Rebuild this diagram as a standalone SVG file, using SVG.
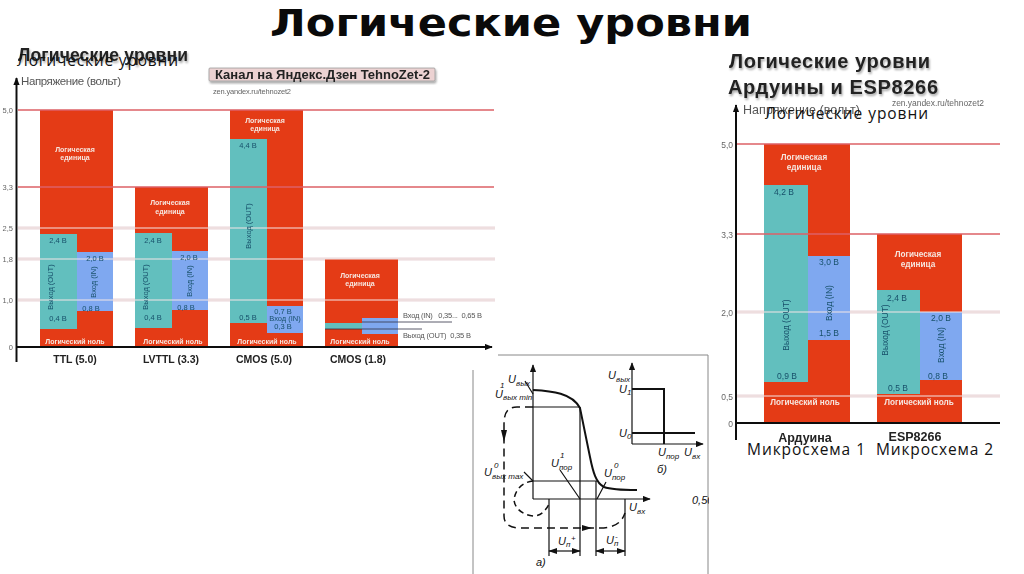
<svg xmlns="http://www.w3.org/2000/svg" width="1024" height="574" viewBox="0 0 1024 574">
<style>
text{font-family:"Liberation Sans",Arial,sans-serif}
.r{fill:#e43a17}.t{fill:#62bfbe}.b{fill:#7fa8f0}
.hr{stroke:#dd6268;stroke-width:1.6;fill:none}
.hp{stroke:#e9d6d9;stroke-width:3;fill:none}
.hw{stroke:#f3e6e6;stroke-width:1.2;fill:none}
.ax{stroke:#111;stroke-width:2;fill:none}
.w{fill:#f6e6de;font-weight:bold;text-anchor:middle;font-size:7px}
.w8{fill:#f6e6de;font-weight:bold;text-anchor:middle;font-size:8.2px}
.v{fill:#17506a;text-anchor:middle;font-size:7.5px}
.v8{fill:#17506a;text-anchor:middle;font-size:8.5px}
.g{fill:#666;font-size:7.5px;text-anchor:end}
.g8{fill:#666;font-size:8.5px;text-anchor:end}
.k{fill:#222;font-weight:bold;text-anchor:middle;font-size:10.5px}
.k2{fill:#222;font-weight:bold;text-anchor:middle;font-size:12.5px}
.o{font-family:"Open Sans","Noto Sans",sans-serif;fill:#111;font-size:15.5px}
.c{fill:none;stroke:#111;stroke-width:1.2}
.c2{fill:none;stroke:#111;stroke-width:2}
.d{fill:none;stroke:#111;stroke-width:1.5;stroke-dasharray:8 5}
.i{font-style:italic;fill:#111;font-size:11px}
.s{font-size:8px;font-style:italic;fill:#111}
</style>
<defs>
<filter id="soft" x="-2%" y="-2%" width="104%" height="104%"><feGaussianBlur stdDeviation="0.35"/></filter>
<filter id="shadow" x="-5%" y="-20%" width="110%" height="150%"><feGaussianBlur in="SourceAlpha" stdDeviation="1.2"/><feOffset dx="1" dy="1.5"/><feComponentTransfer><feFuncA type="linear" slope="0.35"/></feComponentTransfer><feMerge><feMergeNode/><feMergeNode in="SourceGraphic"/></feMerge></filter>
<marker id="big" viewBox="0 0 10 8" refX="9" refY="4" markerWidth="8" markerHeight="6.5" orient="auto" markerUnits="userSpaceOnUse"><path d="M0 0L10 4L0 8Z" fill="#111"/></marker>
<marker id="chev" viewBox="0 0 10 10" refX="9" refY="5" markerWidth="9" markerHeight="9" orient="auto-start-reverse" markerUnits="userSpaceOnUse"><path d="M0 1.500L10 5L0 8.500Z" fill="#111"/></marker>
<clipPath id="cp"><rect x="473" y="355" width="236" height="219"/></clipPath>
</defs>
<rect width="1024" height="574" fill="#fff"/>

<g id="title"><text x="270" y="35.500" style="font-family:'DejaVu Sans',Verdana,sans-serif" font-size="38" font-weight="bold" fill="#0a0a0a" textLength="482" lengthAdjust="spacingAndGlyphs">Логические уровни</text></g>

<g id="chart-left" filter="url(#soft)">
<g id="left-headings">
<text x="18" y="61" font-size="17.500" font-weight="bold" fill="#222" textLength="170" filter="url(#shadow)">Логические уровни</text>
<text x="21" y="85" font-size="11.500" fill="#555" textLength="100">Напряжение (вольт)</text>
<rect x="209" y="68" width="226" height="13" rx="1" fill="#ecd2d2" stroke="#999" stroke-width=".8" filter="url(#shadow)"/>
<text x="215" y="79" font-size="13" font-weight="bold" fill="#222" textLength="215">Канал на Яндекс.Дзен TehnoZet-2</text>
<text x="213" y="94" font-size="7.500" fill="#666" textLength="78">zen.yandex.ru/tehnozet2</text>
</g>
<g id="left-grid-back">
<path class="hp" d="M18 228H495M18 259H495M18 300H495"/>
</g>
<g id="bar-ttl">
<rect class="r" x="40" y="110" width="73" height="237"/>
<rect class="t" x="40" y="234" width="37" height="95"/>
<rect class="b" x="77" y="252" width="36" height="59"/>
</g>
<g id="bar-lvttl">
<rect class="r" x="135" y="187" width="73" height="160"/>
<rect class="t" x="135" y="233" width="37" height="95"/>
<rect class="b" x="172" y="251" width="36" height="59"/>
</g>
<g id="bar-cmos5">
<rect class="r" x="230" y="110" width="73" height="237"/>
<rect class="t" x="230" y="139" width="37" height="184"/>
<rect class="b" x="267" y="306" width="36" height="27"/>
</g>
<g id="bar-cmos18">
<rect class="r" x="325" y="259" width="73" height="88"/>
<rect class="t" x="325" y="323" width="37" height="6"/>
<rect class="b" x="362" y="318" width="36" height="16"/>
</g>
<g id="left-grid-front">
<path class="hr" d="M18 110H494M18 187H494"/>
<path class="hw" d="M18 228H495M18 259H495M18 300H495"/>
<path d="M362 322H452M325 329H422" fill="none" stroke="#334" stroke-width=".8"/>
</g>
<g id="left-axes">
<path class="ax" d="M16.500 362V78" marker-end="url(#big)"/>
<path class="ax" d="M16 347H492" marker-end="url(#big)"/>
</g>
<g id="left-labels">
<text class="g" x="13" y="113">5,0</text><text class="g" x="13" y="190">3,3</text><text class="g" x="13" y="231">2,5</text><text class="g" x="13" y="262">1,8</text><text class="g" x="13" y="303">1,0</text><text class="g" x="13" y="350">0</text>
<text class="w" x="75" y="152">Логическая</text><text class="w" x="75" y="160">единица</text>
<text class="w" x="170" y="205">Логическая</text><text class="w" x="170" y="214">единица</text>
<text class="w" x="265" y="123">Логическая</text><text class="w" x="265" y="131">единица</text>
<text class="w" x="360" y="278">Логическая</text><text class="w" x="360" y="286">единица</text>
<text class="w" x="75" y="344">Логический ноль</text><text class="w" x="173" y="344">Логический ноль</text><text class="w" x="267" y="344">Логический ноль</text><text class="w" x="360" y="344">Логический ноль</text>
<text class="v" x="58" y="243">2,4 В</text><text class="v" x="95" y="261">2,0 В</text><text class="v" x="91" y="311">0,8 В</text><text class="v" x="58" y="321">0,4 В</text>
<text class="v" transform="translate(53 287) rotate(-90)">Выход (OUT)</text><text class="v" transform="translate(96 282) rotate(-90)">Вход (IN)</text>
<text class="v" x="153" y="243">2,4 В</text><text class="v" x="189" y="260">2,0 В</text><text class="v" x="186" y="310">0,8 В</text><text class="v" x="153" y="320">0,4 В</text>
<text class="v" transform="translate(148 287) rotate(-90)">Выход (OUT)</text><text class="v" transform="translate(192 281) rotate(-90)">Вход (IN)</text>
<text class="v" x="248" y="148">4,4 В</text><text class="v" x="248" y="320">0,5 В</text><text class="v" x="283" y="314">0,7 В</text><text class="v" x="285" y="321">Вход (IN)</text><text class="v" x="283" y="329">0,3 В</text>
<text class="v" transform="translate(251 226) rotate(-90)">Выход (OUT)</text>
<text x="403" y="318" font-size="7.500" fill="#555" textLength="79" xml:space="preserve">Вход (IN)   0,35...  0,65 В</text>
<text x="403" y="338" font-size="7.500" fill="#555" textLength="68" xml:space="preserve">Выход (OUT)  0,35 В</text>
<text class="k" x="75" y="363">TTL (5.0)</text><text class="k" x="171" y="363">LVTTL (3.3)</text><text class="k" x="264" y="363">CMOS (5.0)</text><text class="k" x="358" y="363">CMOS (1.8)</text>
</g>
</g>

<g id="chart-right" filter="url(#soft)">
<g id="right-headings">
<text x="729" y="68" font-size="20" font-weight="bold" fill="#222" textLength="201" filter="url(#shadow)">Логические уровни</text>
<text x="728" y="94" font-size="20" font-weight="bold" fill="#222" textLength="210" filter="url(#shadow)">Ардуины и ESP8266</text>
<text x="892" y="106" font-size="8.500" fill="#666" textLength="92">zen.yandex.ru/tehnozet2</text>
<text x="743" y="114" font-size="12.500" fill="#555" textLength="117">Напряжение (вольт)</text>
</g>
<g id="right-grid-back"><path class="hp" d="M737 312H1000M737 396H1000"/></g>
<g id="bar-arduino">
<rect class="r" x="764" y="144" width="86" height="279"/>
<rect class="t" x="764" y="185" width="44" height="197"/>
<rect class="b" x="808" y="256" width="42" height="84"/>
</g>
<g id="bar-esp">
<rect class="r" x="877" y="234" width="85" height="189"/>
<rect class="t" x="877" y="290" width="43" height="104"/>
<rect class="b" x="920" y="312" width="42" height="68"/>
</g>
<g id="right-grid-front">
<path class="hr" d="M737 144H1000M737 234H1000"/>
<path class="hw" d="M737 312H1000M737 396H1000"/>
</g>
<g id="right-axes">
<path class="ax" d="M736 440V105" marker-end="url(#big)"/>
<path class="ax" d="M736 423H1000"/>
</g>
<g id="right-labels">
<text class="g8" x="733" y="148">5,0</text><text class="g8" x="733" y="238">3,3</text><text class="g8" x="733" y="316">2,0</text><text class="g8" x="733" y="400">0,5</text><text class="g8" x="733" y="427">0</text>
<text class="w8" x="804" y="160">Логическая</text><text class="w8" x="804" y="170">единица</text>
<text class="w8" x="918" y="257">Логическая</text><text class="w8" x="918" y="267">единица</text>
<text class="w8" x="805" y="405">Логический ноль</text><text class="w8" x="919" y="405">Логический ноль</text>
<text class="v8" x="784" y="195">4,2 В</text><text class="v8" x="829" y="265">3,0 В</text><text class="v8" x="829" y="336">1,5 В</text><text class="v8" x="787" y="379">0,9 В</text>
<text class="v8" transform="translate(789 325) rotate(-90)">Выход (OUT)</text><text class="v8" transform="translate(832 303) rotate(-90)">Вход (IN)</text>
<text class="v8" x="897" y="301">2,4 В</text><text class="v8" x="941" y="321">2,0 В</text><text class="v8" x="938" y="379">0,8 В</text><text class="v8" x="898" y="391">0,5 В</text>
<text class="v8" transform="translate(888 330) rotate(-90)">Выход (OUT)</text><text class="v8" transform="translate(944 345) rotate(-90)">Вход (IN)</text>
<text class="k2" x="805" y="442">Ардуина</text><text class="k2" x="915" y="441">ESP8266</text>
</g>
</g>

<g id="overlay-labels">
<text class="o" x="17" y="66" textLength="161">Логические  уровни</text>
<text class="o" x="765" y="119" textLength="163">Логические  уровни</text>
<text class="o" x="747" y="455" textLength="118">Микросхема 1</text>
<text class="o" x="876" y="455" textLength="117">Микросхема 2</text>
</g>

<g id="scan">
<path d="M498 355H708V574M473 370V574" fill="none" stroke="#888" stroke-width="1"/>
<g id="plot-a">
<path class="c" d="M533 499V365" marker-end="url(#big)"/>
<path class="c" d="M533 499H650" marker-end="url(#big)"/>
<path class="c2" d="M533 390C552 391 572 393 580 408L590 457C593 472 596 483 604 487C612 490 625 490 637 490"/>
<path class="c" d="M533 407H580M533 481H597M580 407V556M549 499V556M596 481V556M625 499V556"/>
<path class="c" d="M549 551H580" marker-start="url(#chev)" marker-end="url(#chev)"/>
<path class="c" d="M596 551H625" marker-start="url(#chev)" marker-end="url(#chev)"/>
<path class="d" d="M533 407H517C507 407 504 413 504 425V516C504 524 510 528 520 528H600C615 528 622 522 625 513"/>
<path d="M501 430L507 430L504 442Z" fill="#111"/>
<path d="M582 525L592 528L582 531Z" fill="#111"/>
<path class="d" d="M533 481C522 482 515 490 514 500C515 510 525 516 535 516C542 515 546 510 549 504" style="stroke-dasharray:6 4"/>
<path class="c" d="M525 381L533 394M524 472L533 481M560 470L580 499M597 499L606 482"/>
<text class="i" x="508" y="383">U<tspan class="s" dy="3">вых</tspan></text>
<text class="i" x="495" y="398">U<tspan class="s" dy="2">вых min</tspan></text>
<text class="s" x="500" y="388">1</text>
<text class="i" x="484" y="476">U<tspan class="s" dy="3">вых max</tspan></text>
<text class="s" x="494" y="468">0</text>
<text class="i" x="551" y="467">U<tspan class="s" dy="3">пор</tspan></text>
<text class="s" x="560" y="458">1</text>
<text class="i" x="604" y="477">U<tspan class="s" dy="3">пор</tspan></text>
<text class="s" x="614" y="468">0</text>
<text class="i" x="629" y="511">U<tspan class="s" dy="3">вх</tspan></text>
<text class="i" x="558" y="545">U<tspan class="s" dy="2">п</tspan></text>
<text class="s" x="571" y="541">+</text>
<text class="i" x="606" y="544">U<tspan class="s" dy="2">п</tspan></text>
<text class="s" x="615" y="539">-</text>
<text class="i" x="536" y="566">а)</text>
</g>
<g id="plot-b">
<path class="c" d="M632 444V363" marker-end="url(#big)"/>
<path class="c" d="M632 444H703" marker-end="url(#big)"/>
<path class="c2" d="M632 389H664V444M632 433H695"/>
<text class="i" x="608" y="379">U<tspan class="s" dy="3">вых</tspan></text>
<text class="i" x="619" y="393">U<tspan class="s" dy="2">1</tspan></text>
<text class="i" x="619" y="437">U<tspan class="s" dy="2">0</tspan></text>
<text class="i" x="658" y="456">U<tspan class="s" dy="3">пор</tspan></text>
<text class="i" x="684" y="456">U<tspan class="s" dy="3">вх</tspan></text>
<text class="i" x="657" y="473">б)</text>
</g>
<text class="i" x="692" y="504" clip-path="url(#cp)">0,50</text>
</g>
</svg>
